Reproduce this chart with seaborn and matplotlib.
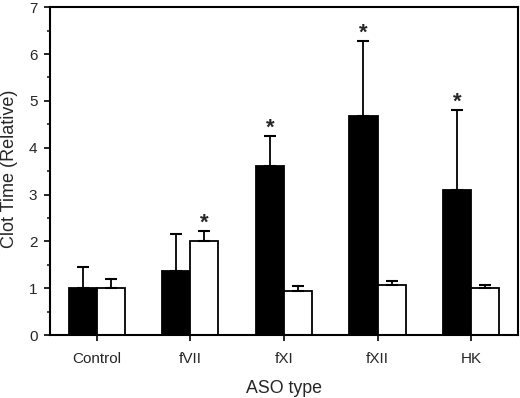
import numpy as np
import pandas as pd
import seaborn as sns
import matplotlib.pyplot as plt
from matplotlib.ticker import MultipleLocator

aso_types = ['Control', 'fVII', 'fXI', 'fXII', 'HK']
black_mean = [1.0, 1.37, 3.61, 4.67, 3.09]
black_upper = [1.45, 2.16, 4.25, 6.28, 4.80]
white_mean = [1.0, 2.0, 0.95, 1.06, 1.0]
white_upper = [1.2, 2.22, 1.05, 1.15, 1.08]
black_sig = [False, False, True, True, True]
white_sig = [False, True, False, False, False]

df = pd.DataFrame({
    'aso': aso_types * 2,
    'group': ['A'] * 5 + ['B'] * 5,
    'value': black_mean + white_mean,
})

sns.set_style('ticks')
plt.rcParams['font.family'] = ['Liberation Sans', 'DejaVu Sans']

fig = plt.figure(figsize=(5.2, 3.98), dpi=100)
ax = fig.add_axes([0.096, 0.158, 0.9, 0.824])

sns.barplot(data=df, x='aso', y='value', hue='group', palette=['black', 'white'],
            edgecolor='black', linewidth=1.3, width=0.6, errorbar=None,
            legend=False, ax=ax)

groups = [(black_mean, black_upper, black_sig), (white_mean, white_upper, white_sig)]
for cont, (means, uppers, sig) in zip(ax.containers, groups):
    xs = [p.get_x() + p.get_width() / 2 for p in cont.patches]
    errs = np.array(uppers) - np.array(means)
    ax.errorbar(xs, means, yerr=[np.zeros(len(errs)), errs], fmt='none',
                ecolor='black', elinewidth=1.3, capsize=4.5, capthick=1.5, zorder=1)
    for x, u, s in zip(xs, uppers, sig):
        if s:
            ax.text(x, u + 0.17, '*', ha='center', va='center', fontsize=16,
                    fontweight='bold')

ax.set_xlim(-0.5, 4.5)
ax.set_ylim(0, 7)
ax.yaxis.set_major_locator(MultipleLocator(1))
ax.yaxis.set_minor_locator(MultipleLocator(0.5))
ax.tick_params(axis='both', which='major', labelsize=11, length=4, width=1.2,
               color='black', pad=5)
ax.tick_params(axis='x', which='major', pad=8)
ax.tick_params(axis='y', which='minor', length=2.5, width=1.2)
for sp in ax.spines.values():
    sp.set_linewidth(1.5)
    sp.set_color('black')
    sp.set_visible(True)

ax.set_xlabel('ASO type', fontsize=12.8)
ax.set_ylabel('')
ax.xaxis.set_label_coords(0.5, -0.137)
fig.text(0.018, 0.575, 'Clot Time (Relative)', rotation=90, ha='center',
         va='center', fontsize=13)

fig.savefig('out.png', dpi=100)
